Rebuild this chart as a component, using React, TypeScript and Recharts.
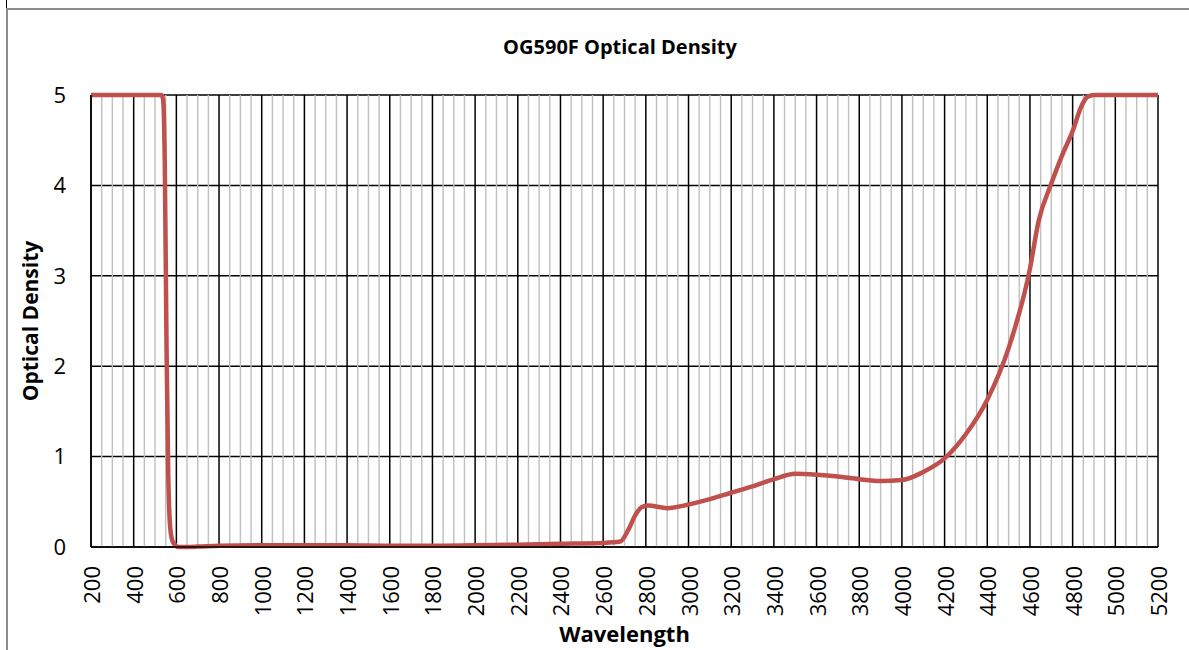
import React from "react";
import { CartesianGrid, Line, LineChart, ReferenceLine, XAxis, YAxis } from "recharts";

// wavelength (nm) and optical density
const wavelengths = [
  200, 400, 530, 538, 546, 554, 562, 570, 580, 595, 610, 700, 800, 1000, 1200, 1400, 1600,
  1800, 2000, 2200, 2400, 2600, 2680, 2720, 2750, 2780, 2810, 2900, 3000, 3100, 3200, 3300,
  3400, 3500, 3600, 3700, 3800, 3900, 4000, 4100, 4200, 4300, 4400, 4500, 4600, 4640, 4700,
  4750, 4800, 4840, 4870, 4900, 5000, 5200,
];
const density = [
  5, 5, 5, 4.95, 4.2, 2.2, 0.8, 0.25, 0.08, 0.02, 0.0, 0.005, 0.015, 0.02, 0.02, 0.02, 0.015,
  0.015, 0.02, 0.025, 0.035, 0.045, 0.06, 0.2, 0.35, 0.44, 0.46, 0.43, 0.47, 0.53, 0.6, 0.67,
  0.75, 0.81, 0.8, 0.78, 0.75, 0.73, 0.74, 0.83, 0.98, 1.25, 1.63, 2.2, 3.08, 3.6, 4.02,
  4.33, 4.6, 4.87, 4.98, 5, 5, 5,
];

const xTicks = [
  200, 400, 600, 800, 1000, 1200, 1400, 1600, 1800, 2000, 2200, 2400, 2600, 2800, 3000, 3200,
  3400, 3600, 3800, 4000, 4200, 4400, 4600, 4800, 5000, 5200,
];
const yTicks = [0, 1, 2, 3, 4, 5];
// minor gridlines every 50 nm between the labelled ones
const minorTicks = Array.from({ length: 101 }, (_, i) => 200 + i * 50).filter((v) => v % 200 !== 0);

const data = wavelengths.map((w, i) => ({ w, od: density[i] }));

const FONT = "'Open Sans', sans-serif";

function XTick({ x, y, payload }: any) {
  return (
    <text
      x={x}
      y={y}
      transform={`rotate(-90 ${x} ${y})`}
      textAnchor="end"
      dominantBaseline="central"
      fontSize={22}
      fontFamily={FONT}
      fill="#000"
    >
      {payload.value}
    </text>
  );
}

export default function App() {
  return (
    <div style={{ position: "absolute", left: 0, top: 0, width: 1189, height: 650, background: "#fff" }}>
      <div style={{ position: "absolute", left: 6, top: 0, width: 1, height: 9, background: "#000" }} />
      <div
        style={{
          position: "absolute",
          left: 6,
          top: 8,
          right: 0,
          bottom: 0,
          borderTop: "2px solid #8c8c8c",
          borderLeft: "2px solid #8c8c8c",
        }}
      />
      <div
        style={{
          position: "absolute",
          left: 0,
          width: 1240,
          top: 33,
          textAlign: "center",
          fontFamily: FONT,
          fontWeight: 700,
          fontSize: 20,
        }}
      >
        OG590F Optical Density
      </div>
      <div style={{ position: "absolute", left: 0, top: 0 }}>
        <LineChart width={1189} height={650} data={data} margin={{ top: 95, right: 31, bottom: 13, left: 31 }}>
          {minorTicks.map((v) => (
            <ReferenceLine key={v} x={v} stroke="#bfbfbf" strokeWidth={1.4} />
          ))}
          <CartesianGrid stroke="#000" strokeWidth={1.5} />
          <XAxis
            dataKey="w"
            type="number"
            domain={[200, 5200]}
            ticks={xTicks}
            interval={0}
            height={90}
            tickSize={0}
            tickMargin={19}
            tick={<XTick />}
            axisLine={{ stroke: "#000", strokeWidth: 1.5 }}
            label={{
              value: "Wavelength",
              position: "insideBottom",
              offset: -5,
              style: { fontFamily: FONT, fontWeight: 700, fontSize: 22, fill: "#000" },
            }}
          />
          <YAxis
            type="number"
            domain={[0, 5]}
            ticks={yTicks}
            width={60}
            tickSize={0}
            tickMargin={25}
            tick={{ fontSize: 22, fontFamily: FONT, fill: "#000" }}
            axisLine={{ stroke: "#000", strokeWidth: 1.5 }}
            label={{
              value: "Optical Density",
              angle: -90,
              position: "insideLeft",
              offset: 0,
              style: { textAnchor: "middle", fontFamily: FONT, fontWeight: 700, fontSize: 21, fill: "#000" },
            }}
          />
          <Line
            type="monotone"
            dataKey="od"
            stroke="#c0504d"
            strokeWidth={4.5}
            dot={false}
            isAnimationActive={false}
          />
        </LineChart>
      </div>
    </div>
  );
}
